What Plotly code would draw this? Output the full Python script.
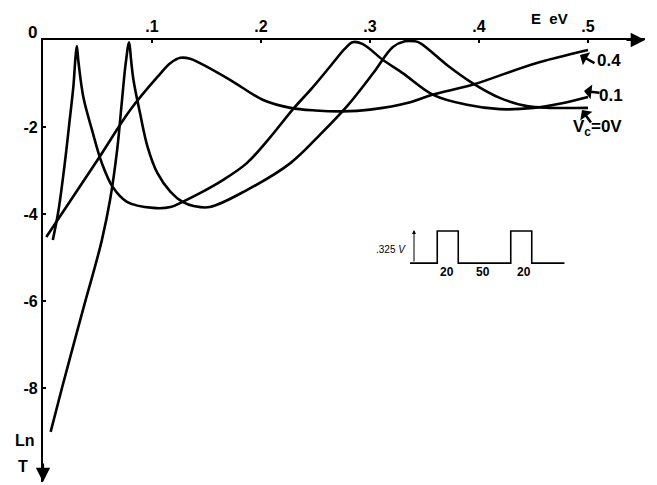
import plotly.graph_objects as go

W, H = 657, 485

# ln T versus energy E (eV) for three bias voltages Vc
e_v04 = [0.003, 0.050, 0.080, 0.105, 0.117, 0.126, 0.135, 0.144, 0.172, 0.202,
         0.227, 0.250, 0.275, 0.300, 0.337, 0.357, 0.394, 0.450, 0.500]
lnt_v04 = [-4.53, -2.76, -1.61, -0.85, -0.53, -0.41, -0.43, -0.53, -0.92, -1.38,
           -1.56, -1.62, -1.64, -1.60, -1.43, -1.26, -1.03, -0.55, -0.23]

e_v01 = [0.009, 0.014, 0.020, 0.024, 0.028, 0.0295, 0.031, 0.0325, 0.037, 0.045,
         0.054, 0.064, 0.077, 0.101, 0.117, 0.128, 0.144, 0.165, 0.187, 0.208,
         0.229, 0.247, 0.263, 0.277, 0.284, 0.293, 0.312, 0.330, 0.358, 0.389,
         0.419, 0.450, 0.475, 0.500]
lnt_v01 = [-4.60, -3.95, -2.83, -1.95, -1.03, -0.50, -0.14, -0.50, -1.31, -2.07,
           -2.83, -3.38, -3.72, -3.86, -3.84, -3.72, -3.52, -3.22, -2.83, -2.25,
           -1.60, -1.10, -0.62, -0.20, -0.05, -0.09, -0.46, -0.76, -1.26, -1.49,
           -1.59, -1.56, -1.46, -1.31]

e_v00 = [0.007, 0.0174, 0.0284, 0.0394, 0.0468, 0.054, 0.0615, 0.068, 0.0725, 0.076,
         0.079, 0.0808, 0.083, 0.089, 0.096, 0.105, 0.117, 0.128, 0.139, 0.153,
         0.187, 0.227, 0.254, 0.279, 0.303, 0.321, 0.332, 0.341, 0.346, 0.373,
         0.394, 0.419, 0.444, 0.465, 0.500]
lnt_v00 = [-9.01, -8.00, -6.97, -5.95, -5.29, -4.60, -3.68, -2.53, -1.38, -0.51,
           -0.05, -0.46, -0.92, -1.68, -2.46, -3.06, -3.49, -3.72, -3.82, -3.84,
           -3.45, -2.83, -2.18, -1.52, -0.76, -0.16, -0.03, -0.03, -0.07, -0.62,
           -0.99, -1.33, -1.52, -1.56, -1.56]

x_ticks = [0.1, 0.2, 0.3, 0.4, 0.5]
x_ticktext = [".1", ".2", ".3", ".4", ".5"]
y_ticks = [-2, -4, -6, -8]
y_ticktext = ["-2", "-4", "-6", "-8"]

pulse_widths = [20, 50, 20]   # ns, inset
pulse_height = 0.325          # V

X0, X1 = 43, 645   # pixel extent of the E axis
Y0, Y1 = 40, 482   # pixel extent of the lnT axis
XMAX = (X1 - X0) / 1090
YMIN = -(Y1 - Y0) / 43.5


def paper(xp, yp):
    return xp / W, 1 - yp / H


fig = go.Figure()
line = dict(color="black", width=2.6, shape="spline", smoothing=1.0)
for e, t, name in [(e_v04, lnt_v04, "0.4"), (e_v01, lnt_v01, "0.1"), (e_v00, lnt_v00, "0V")]:
    fig.add_trace(go.Scatter(x=e, y=t, mode="lines", line=line, name=name))

# inset: pulse train
k = 1.05 / 1090
base, top = -5.13, -4.39
px0 = 0.3367
xs, ys = [px0], [base]
cur = px0 + 0.025
xs += [cur, cur]; ys += [base, top]
cur += pulse_widths[0] * k
xs += [cur, cur]; ys += [top, base]
cur += pulse_widths[1] * k
xs += [cur, cur]; ys += [base, top]
cur += pulse_widths[2] * k
xs += [cur, cur, cur + 0.03]; ys += [top, base, base]
fig.add_trace(go.Scatter(x=xs, y=ys, mode="lines", line=dict(color="black", width=1.6)))

font = dict(family="Liberation Sans", size=16, color="black", weight="bold")
ann = []


def label(text, xp, yp, size=16, bold=True):
    x, y = paper(xp, yp)
    f = dict(font)
    f["size"] = size
    if not bold:
        f["weight"] = "normal"
    ann.append(dict(text=text, x=x, y=y, xref="paper", yref="paper", showarrow=False,
                    font=f, xanchor="center", yanchor="middle"))


label("0", 32, 33, 17)
label("E  eV", 549, 19, 15)
label("Ln", 25, 440, 16)
label("T", 23, 466, 16)
label("0.4", 609, 60, 17)
label("0.1", 611, 96, 17)
label("V<sub>c</sub>=0V", 597, 128, 17)
label(".325 <i>V</i>", 391, 250, 10, False)
label(str(pulse_widths[0]), 447, 272, 12)
label(str(pulse_widths[1]), 483, 272, 12)
label(str(pulse_widths[2]), 524, 272, 12)

# axis arrowheads
ann.append(dict(x=XMAX, y=0, xref="x", yref="y", ax=-20, ay=0, showarrow=True,
                arrowhead=2, arrowsize=1.3, arrowwidth=2.2, arrowcolor="black", text=""))
ann.append(dict(x=0, y=YMIN, xref="x", yref="y", ax=0, ay=-20, showarrow=True,
                arrowhead=2, arrowsize=1.3, arrowwidth=2.2, arrowcolor="black", text=""))
# label pointers
for tip, off in [((580, 55), (16, 9)), ((584, 91), (17, 2)), ((582, 110), (10, 14))]:
    x, y = paper(*tip)
    ann.append(dict(x=x, y=y, xref="paper", yref="paper", ax=off[0], ay=off[1],
                    showarrow=True, arrowhead=1, arrowsize=1.0, arrowwidth=2.5,
                    arrowcolor="black", text=""))
# inset amplitude arrow
x, y = paper(414, 230)
ann.append(dict(x=x, y=y, xref="paper", yref="paper", ax=0, ay=33, showarrow=True,
                arrowhead=2, arrowsize=0.8, arrowwidth=1, arrowcolor="black", text=""))

fig.update_layout(
    width=W, height=H,
    margin=dict(l=0, r=0, t=0, b=0),
    paper_bgcolor="white", plot_bgcolor="white",
    showlegend=False,
    annotations=ann,
    xaxis=dict(domain=[X0 / W, X1 / W], range=[0, XMAX], side="top",
               showgrid=False, zeroline=False, showline=True, linecolor="black",
               linewidth=2.2, ticks="inside", ticklen=3, tickwidth=2, tickcolor="black",
               tickvals=x_ticks, ticktext=x_ticktext, tickfont=font),
    yaxis=dict(domain=[1 - Y1 / H, 1 - Y0 / H], range=[YMIN, 0],
               showgrid=False, zeroline=False, showline=True, linecolor="black",
               linewidth=2.2, ticks="inside", ticklen=3, tickwidth=2, tickcolor="black",
               tickvals=y_ticks, ticktext=y_ticktext, tickfont=font),
)

# the page body has an 8px default margin; drop it so the figure fills the window
fig.write_html("out.html", config={"displayModeBar": False},
               post_script="document.body.style.margin='0px';")
